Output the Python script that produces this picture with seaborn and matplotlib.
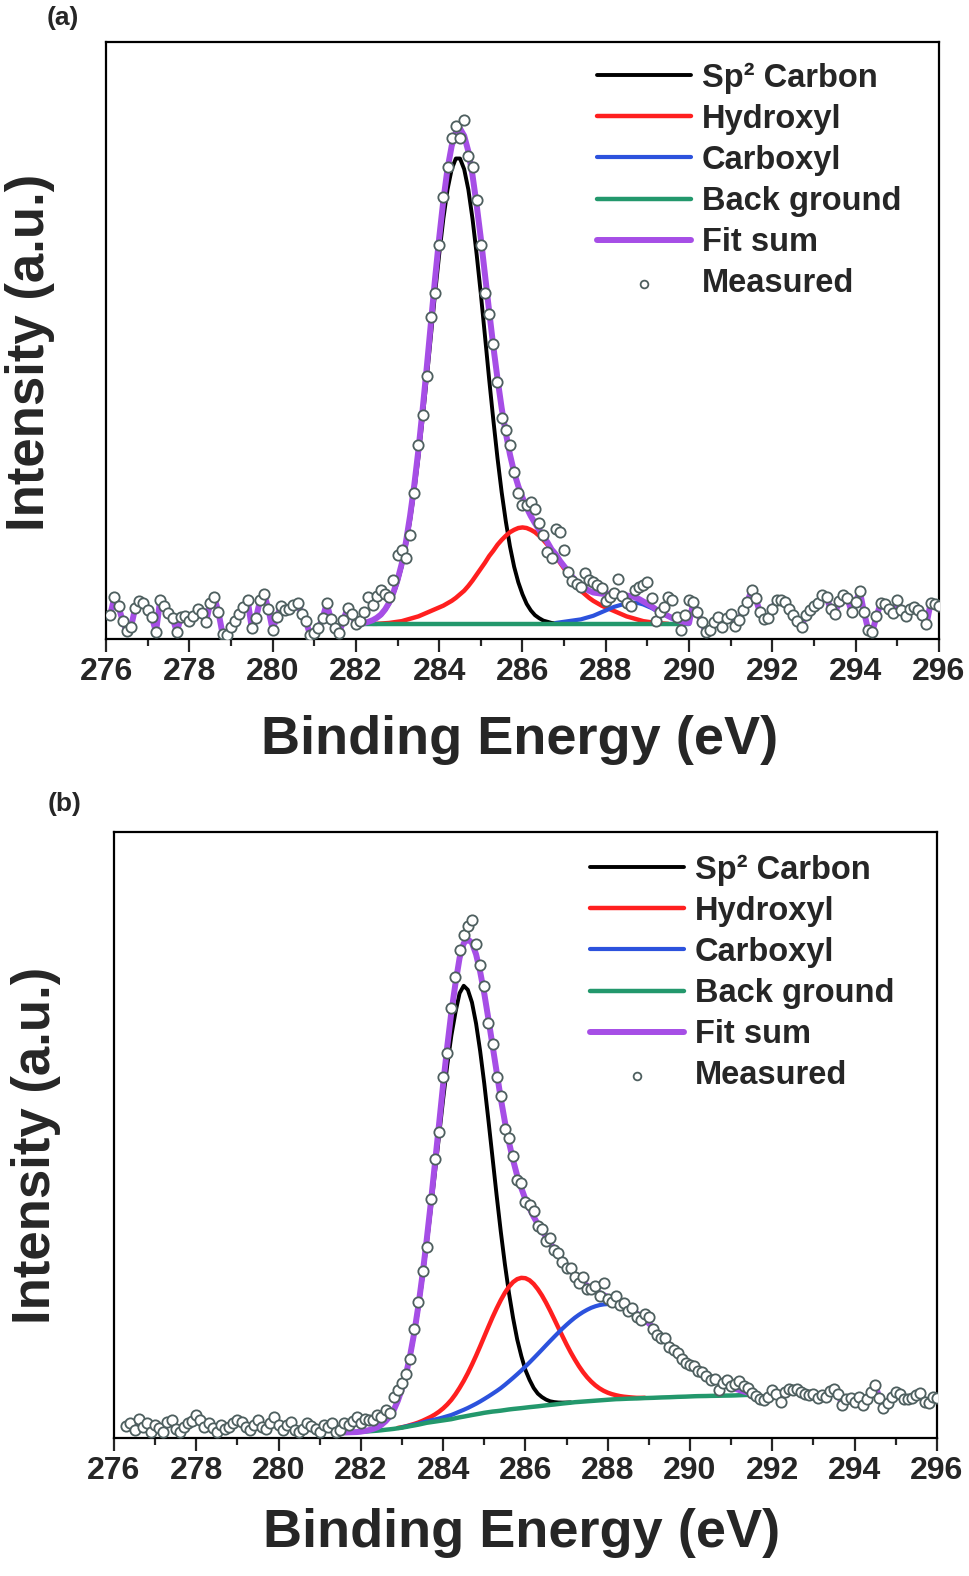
import numpy as np
import matplotlib
matplotlib.use("Agg")
import matplotlib.pyplot as plt
from matplotlib.ticker import MultipleLocator
import seaborn as sns

STEP = 0.1  # eV spacing of every series below

# ---------------- panel (a) ----------------
meas_a_start = 276.1
meas_a = [
    4.0, 7.0, 5.5, 3.0, 1.3, 2.0, 5.2, 6.3, 6.0, 4.8,
    3.7, 1.2, 6.5, 5.5, 4.3, 3.5, 1.2, 3.7, 3.8, 3.0,
    3.8, 5.0, 4.3, 2.8, 6.0, 7.0, 4.5, 0.8, 0.7, 2.0,
    3.0, 4.2, 5.4, 6.6, 1.8, 3.5, 6.5, 7.5, 5.0, 1.6,
    3.7, 5.5, 4.8, 5.1, 5.7, 6.0, 4.2, 3.0, 0.7, 1.0,
    1.8, 3.5, 6.0, 3.3, 1.8, 1.0, 3.2, 5.2, 4.2, 2.5,
    3.0, 4.5, 7.1, 5.7, 7.2, 8.3, 7.5, 7.0, 9.9, 14.0,
    15.0, 13.5, 17.5, 24.5, 32.5, 37.5, 44.0, 54.0, 58.0, 66.0,
    74.0, 79.0, 84.0, 86.0, 84.0, 87.0, 81.0, 79.0, 73.5, 66.0,
    58.0, 54.5, 49.5, 43.0, 37.0, 35.0, 32.5, 28.0, 24.5, 22.5,
    22.4, 23.0, 21.8, 19.5, 17.5, 14.6, 13.5, 18.5, 18.0, 15.0,
    11.3, 9.7, 9.2, 8.8, 11.0, 9.9, 9.6, 9.0, 8.5, 6.3,
    7.0, 7.7, 10.0, 7.2, 6.0, 5.5, 8.2, 8.8, 9.0, 9.5,
    6.8, 3.0, 4.6, 5.4, 7.0, 6.6, 3.7, 1.5, 4.0, 6.5,
    6.2, 4.5, 2.8, 1.2, 1.5, 2.8, 3.7, 2.1, 3.5, 4.2,
    2.2, 3.2, 4.8, 6.2, 8.2, 6.8, 4.5, 3.4, 3.6, 5.0,
    6.6, 6.6, 6.2, 5.0, 4.0, 3.1, 2.1, 4.0, 4.9, 5.5,
    6.0, 7.4, 7.0, 5.0, 4.2, 6.3, 7.3, 6.9, 4.6, 6.2,
    8.0, 4.5, 1.6, 1.2, 3.8, 6.0, 5.8, 5.0, 4.3, 6.5,
    4.8, 3.8, 5.1, 5.4, 4.9, 4.0, 2.5, 6.0, 5.8, 5.5,
]
fit_a_start, fit_a_end = 282.2, 290.0
bg_a_level = 2.5
# component heights above the background
sp2_a_start = 282.2
sp2_a = [
    0.2, 0.4, 0.6, 1.0, 1.5, 2.3, 3.4, 5.0,
    7.0, 9.6, 13.0, 17.2, 22.1, 27.8, 34.2, 41.0, 48.2, 55.3,
    61.9, 67.9, 72.8, 76.2, 78.0, 78.0, 76.2, 72.8, 67.9, 61.9,
    55.3, 48.2, 41.0, 34.2, 27.8, 22.1, 17.2, 13.0, 9.6, 7.0,
    5.0, 3.4, 2.3, 1.5, 1.0, 0.6, 0.4, 0.2, 0.1,
]
hyd_a_start = 282.4
hyd_a = [
    0.05, 0.05, 0.1, 0.15, 0.2, 0.3,
    0.4, 0.5, 0.7, 0.9, 1.1, 1.3, 1.6, 1.9, 2.2, 2.5,
    2.8, 3.1, 3.5, 3.9, 4.4, 5.0, 5.6, 6.4, 7.3, 8.3,
    9.3, 10.3, 11.4, 12.3, 13.3, 14.1, 14.8, 15.4, 15.8, 16.1,
    16.2, 16.1, 15.8, 15.4, 14.8, 14.1, 13.3, 12.3, 11.4, 10.3,
    9.3, 8.3, 7.3, 6.4, 5.6, 5.0, 4.4, 3.9, 3.5, 3.1,
    2.8, 2.5, 2.2, 1.9, 1.6, 1.3, 1.1, 0.9, 0.7, 0.5,
    0.4, 0.3, 0.2, 0.15, 0.1, 0.05,
]
carb_a_start = 286.8
carb_a = [
    0.2, 0.3,
    0.4, 0.5, 0.6, 0.7, 0.8, 1.0, 1.2, 1.4, 1.7, 2.0,
    2.3, 2.6, 2.9, 3.1, 3.3, 3.5, 3.6, 3.6, 3.5, 3.3,
    3.0, 2.7, 2.3, 1.9, 1.6, 1.3, 1.0, 0.7, 0.5, 0.3,
    0.2,
]

# ---------------- panel (b) ----------------
meas_b_start = 276.3
meas_b = [
    2.0, 2.5, 1.3, 3.2, 1.8, 2.4, 1.0, 2.1, 1.6, 1.0,
    2.6, 2.9, 1.5, 1.0, 1.8, 2.4, 2.8, 3.8, 2.9, 1.8,
    2.4, 1.6, 1.0, 2.1, 1.5, 1.8, 2.4, 2.9, 2.6, 1.8,
    1.3, 2.1, 2.9, 1.8, 1.5, 2.4, 3.5, 2.1, 1.3, 2.1,
    2.6, 1.3, 1.0, 1.5, 2.4, 2.0, 1.5, 1.0, 2.1, 1.8,
    2.4, 1.0, 1.3, 2.4, 2.1, 2.8, 3.5, 2.4, 3.2, 2.9,
    3.0, 3.8, 3.5, 4.6, 4.1, 6.8, 7.9, 9.0, 10.5, 13.0,
    18.0, 22.5, 27.5, 31.5, 39.5, 46.0, 50.5, 59.5, 63.5, 71.0,
    76.0, 80.5, 83.0, 84.5, 85.5, 81.5, 78.0, 74.5, 68.5, 65.0,
    59.5, 56.5, 51.0, 49.5, 46.5, 42.5, 42.0, 39.0, 38.5, 37.5,
    35.0, 34.5, 32.5, 33.0, 31.0, 30.5, 29.0, 28.0, 28.0, 26.5,
    25.5, 26.5, 24.5, 24.5, 25.0, 23.5, 25.5, 23.0, 22.5, 23.5,
    22.0, 22.3, 21.0, 21.5, 20.0, 19.5, 20.5, 20.0, 18.0, 17.0,
    16.5, 16.5, 15.0, 14.5, 14.0, 13.0, 12.4, 12.0, 11.9, 11.1,
    10.8, 10.2, 9.5, 9.8, 7.9, 9.0, 9.5, 8.6, 8.9, 9.4,
    8.6, 8.2, 7.4, 6.9, 6.5, 6.3, 6.8, 7.9, 7.3, 6.0,
    7.5, 8.1, 7.9, 8.1, 7.6, 7.3, 7.1, 7.3, 6.6, 7.1,
    6.8, 7.8, 8.0, 7.3, 5.4, 6.4, 6.6, 6.0, 6.8, 5.4,
    6.4, 7.5, 8.8, 6.6, 4.9, 5.7, 6.8, 7.5, 7.2, 6.5,
    6.4, 6.6, 7.1, 7.4, 6.0, 5.8, 6.8, 6.6,
]
fit_b_start = 281.6
bg_b = [
    0.90, 0.92, 0.95, 0.97, 1.00, 1.05, 1.10, 1.15, 1.20, 1.27,
    1.35, 1.42, 1.50, 1.60, 1.70, 1.82, 1.95, 2.07, 2.20, 2.35,
    2.50, 2.60, 2.70, 2.80, 2.90, 3.00, 3.10, 3.25, 3.40, 3.52,
    3.65, 3.78, 3.90, 4.02, 4.15, 4.25, 4.35, 4.42, 4.50, 4.60,
    4.70, 4.78, 4.85, 4.92, 5.00, 5.08, 5.15, 5.22, 5.30, 5.38,
    5.45, 5.52, 5.60, 5.68, 5.75, 5.82, 5.90, 5.95, 6.00, 6.05,
    6.10, 6.15, 6.20, 6.25, 6.30, 6.35, 6.40, 6.42, 6.45, 6.48,
    6.50, 6.52, 6.55, 6.58, 6.60, 6.62, 6.65, 6.68, 6.70, 6.72,
    6.75, 6.78, 6.80, 6.82, 6.85, 6.88, 6.90, 6.91, 6.92, 6.94,
    6.95, 6.96, 6.98, 6.99, 7.00, 7.02, 7.05, 7.08, 7.10, 7.10,
]
sp2_b_start = 282.0
sp2_b = [
    0.05, 0.1, 0.2, 0.35, 0.55, 0.9, 1.4, 2.1, 3.1, 4.5,
    6.3, 8.6, 11.5, 15.0, 19.2, 24.0, 29.3, 35.0, 41.0, 47.0,
    53.0, 58.5, 63.3, 67.0, 70.0, 71.1, 70.3, 68.1, 64.5, 59.8,
    54.3, 48.2, 41.9, 35.6, 29.6, 24.1, 19.2, 15.0, 11.4, 8.6,
    6.2, 4.5, 3.1, 2.1, 1.45, 0.95, 0.6, 0.4, 0.25, 0.15,
    0.1, 0.05,
]
hyd_b_start = 282.9
hyd_b = [
    0.05,
    0.07, 0.1, 0.17, 0.25, 0.35, 0.48, 0.65, 0.88, 1.17, 1.53,
    1.98, 2.53, 3.19, 3.96, 4.86, 5.89, 7.04, 8.31, 9.67, 11.11,
    12.59, 14.09, 15.56, 16.95, 18.23, 19.34, 20.26, 20.94, 21.36, 21.5,
    21.36, 20.94, 20.26, 19.34, 18.23, 16.95, 15.56, 14.09, 12.59, 11.11,
    9.67, 8.31, 7.04, 5.89, 4.86, 3.96, 3.19, 2.53, 1.98, 1.53,
    1.17, 0.88, 0.65, 0.48, 0.35, 0.25, 0.17, 0.1, 0.07, 0.05,
]
carb_b_start = 283.0
carb_b = [
    0.06, 0.08, 0.10, 0.13, 0.16, 0.19, 0.24, 0.29, 0.34, 0.41,
    0.49, 0.59, 0.69, 0.82, 0.96, 1.12, 1.30, 1.51, 1.74, 2.00,
    2.28, 2.60, 2.94, 3.32, 3.72, 4.16, 4.63, 5.13, 5.66, 6.21,
    6.79, 7.38, 8.00, 8.63, 9.26, 9.90, 10.54, 11.17, 11.78, 12.37,
    12.93, 13.46, 13.94, 14.38, 14.77, 15.10, 15.38, 15.58, 15.72, 15.79,
    15.79, 15.72, 15.58, 15.38, 15.10, 14.77, 14.38, 13.94, 13.46, 12.9,
    12.3, 11.6, 10.9, 10.1, 9.4, 8.7, 8.0, 7.3, 6.6, 6.0,
    5.4, 4.9, 4.4, 3.9, 3.5, 3.1, 2.7, 2.3, 2.0, 1.7,
    1.4, 1.1, 0.85, 0.6, 0.4, 0.25,
]

xticks = [276, 278, 280, 282, 284, 286, 288, 290, 292, 294, 296]
labels = ["Sp² Carbon", "Hydroxyl", "Carboxyl", "Back ground", "Fit sum", "Measured"]
colors = {"sp2": "black", "hyd": "#ff1f1f", "carb": "#2c52dd",
          "bg": "#23986c", "fit": "#a64ee6", "meas_edge": "#4e5f5f"}
widths = {"sp2": 2.8, "hyd": 3.2, "carb": 3.0, "bg": 3.2, "fit": 4.3}


def energies(start, n):
    return np.round(start + STEP * np.arange(n), 2)


def on_grid(grid, start, vals):
    out = np.zeros(len(grid))
    i = int(round((start - grid[0]) / STEP))
    out[i:i + len(vals)] = vals
    return out


def draw_panel(ax, meas_start, meas, grid, bg, comps, leg_anchor):
    mx = energies(meas_start, len(meas))
    my = np.array(meas)

    fit = bg.copy()
    for key, start, vals in comps:
        cx = energies(start, len(vals))
        i = int(round((start - grid[0]) / STEP))
        cy = bg[i:i + len(vals)] + np.array(vals)
        sns.lineplot(x=cx, y=cy, ax=ax, color=colors[key], sort=False,
                     estimator=None, lw=widths[key],
                     label=labels[["sp2", "hyd", "carb"].index(key)], zorder=2)
        fit = fit + on_grid(grid, start, vals)

    sns.lineplot(x=grid, y=bg, ax=ax, color=colors["bg"], lw=widths["bg"], sort=False,
                 estimator=None, label=labels[3], zorder=2.5)

    # outside the fitted window the fit-sum trace just follows the data
    left, right = mx < grid[0] - 1e-6, mx > grid[-1] + 1e-6
    px = np.concatenate([mx[left], grid, mx[right]])
    py = np.concatenate([my[left], fit, my[right]])
    sns.lineplot(x=px, y=py, ax=ax, color=colors["fit"], lw=widths["fit"], sort=False,
                 estimator=None, label=labels[4], zorder=3)

    sns.scatterplot(x=mx, y=my, ax=ax, color="white", edgecolor=colors["meas_edge"],
                    linewidth=1.3, s=55, label=labels[5], zorder=4)

    ax.set_xlim(276, 296)
    ax.set_ylim(0, 100)
    ax.set_xticks(xticks)
    ax.xaxis.set_minor_locator(MultipleLocator(1))
    ax.set_yticks([])
    ax.set_xlabel("")
    ax.set_ylabel("")
    ax.tick_params(axis="x", which="major", direction="out", length=9, width=1.6,
                   labelsize=23, pad=4, bottom=True, top=False)
    ax.tick_params(axis="x", which="minor", direction="out", length=5, width=1.6,
                   bottom=True, top=False)
    for sp in ax.spines.values():
        sp.set_linewidth(1.6)
        sp.set_color("black")
    for t in ax.get_xticklabels():
        t.set_fontweight("bold")

    h, l = ax.get_legend_handles_labels()
    ax.legend(h, l, loc="upper left", bbox_to_anchor=leg_anchor, frameon=False,
              fontsize=23.5, handlelength=2.9, handletextpad=0.33, labelspacing=0.31,
              borderpad=0, borderaxespad=0, markerscale=0.75)
    for t in ax.get_legend().get_texts():
        t.set_fontweight("bold")


sns.set_theme(style="white")
plt.rcParams["font.family"] = ["Liberation Sans", "DejaVu Sans"]
plt.rcParams["font.weight"] = "bold"

fig = plt.figure(figsize=(9.69, 15.76), dpi=100)
ax_a = fig.add_axes([0.1094, 0.5945, 0.8596, 0.3788])
ax_b = fig.add_axes([0.1176, 0.0876, 0.8493, 0.3845])

grid_a = energies(fit_a_start, int(round((fit_a_end - fit_a_start) / STEP)) + 1)
bg_a = np.full(len(grid_a), bg_a_level)
draw_panel(ax_a, meas_a_start, meas_a, grid_a, bg_a,
           [("sp2", sp2_a_start, sp2_a), ("hyd", hyd_a_start, hyd_a),
            ("carb", carb_a_start, carb_a)], (0.589, 0.966))

grid_b = energies(fit_b_start, len(bg_b))
draw_panel(ax_b, meas_b_start, meas_b, grid_b, np.array(bg_b),
           [("sp2", sp2_b_start, sp2_b), ("hyd", hyd_b_start, hyd_b),
            ("carb", carb_b_start, carb_b)], (0.578, 0.963))

W, H = 969, 1576
fig.text(63 / W, 1 - 18 / H, "(a)", fontsize=19, fontweight="bold", ha="center", va="center")
fig.text(65 / W, 1 - 804 / H, "(b)", fontsize=19, fontweight="bold", ha="center", va="center")
fig.text(520 / W, 1 - 740 / H, "Binding Energy (eV)", fontsize=39, fontweight="bold",
         ha="center", va="center")
fig.text(522 / W, 1 - 1533 / H, "Binding Energy (eV)", fontsize=39, fontweight="bold",
         ha="center", va="center")
fig.text(30 / W, 1 - 352 / H, "Intensity (a.u.)", fontsize=38, fontweight="bold",
         rotation=90, ha="center", va="center")
fig.text(36 / W, 1 - 1145 / H, "Intensity (a.u.)", fontsize=38, fontweight="bold",
         rotation=90, ha="center", va="center")

fig.savefig("out.png", dpi=100)
